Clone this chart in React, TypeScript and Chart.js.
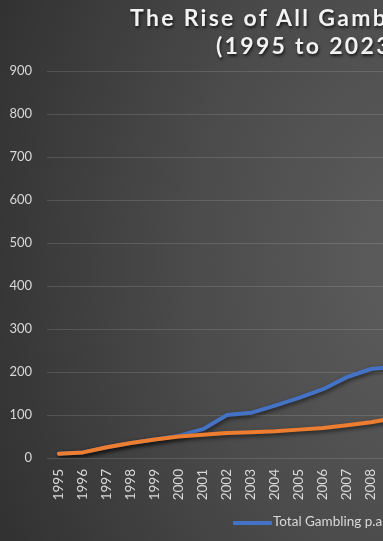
import React, { useEffect, useRef } from 'react';
import { Chart, registerables } from 'chart.js';

Chart.register(...registerables);

// ---- data (visible part of the chart) ----
const years = ['1995', '1996', '1997', '1998', '1999', '2000', '2001', '2002', '2003', '2004', '2005', '2006', '2007', '2008', '2009'];
const totalGambling = [10, 13, 25, 35, 43, 52, 67, 100, 105, 122, 140, 160, 188, 207, 212];
const secondSeries = [10, 13, 25, 35, 43, 50, 54, 58, 60, 62, 66, 70, 76, 83, 93];
const yMin = 0;
const yMax = 900;
const yStep = 100;
const titleLines = ['The Rise of All Gamb', '(1995 to 2023'];
const legendLabel = 'Total Gambling p.a';

const BLUE = '#4472C4';
const ORANGE = '#ED7D31';
const TICK = '#d9d9d9';
const FONT = 'Lato, "Open Sans", sans-serif';

const shadowPlugin = {
  id: 'lineShadow',
  beforeDatasetDraw(chart: any) {
    const c = chart.ctx;
    c.save();
    c.shadowColor = 'rgba(0,0,0,0.6)';
    c.shadowBlur = 4;
    c.shadowOffsetX = 1;
    c.shadowOffsetY = 2;
  },
  afterDatasetDraw(chart: any) {
    chart.ctx.restore();
  },
};

export default function App() {
  const canvasRef = useRef<HTMLCanvasElement | null>(null);

  useEffect(() => {
    if (!canvasRef.current) return;
    const chart = new Chart(canvasRef.current, {
      type: 'line',
      data: {
        labels: years,
        datasets: [
          {
            label: 'Series 2',
            data: secondSeries,
            borderColor: ORANGE,
            backgroundColor: ORANGE,
            borderWidth: 4,
            pointRadius: 0,
            tension: 0,
            borderJoinStyle: 'round',
            borderCapStyle: 'round',
          },
          {
            label: legendLabel,
            data: totalGambling,
            borderColor: BLUE,
            backgroundColor: BLUE,
            borderWidth: 4,
            pointRadius: 0,
            tension: 0,
            borderJoinStyle: 'round',
            borderCapStyle: 'round',
          },
        ],
      },
      options: {
        responsive: false,
        animation: false,
        layout: { padding: { top: 71, left: 0, right: 0, bottom: 0 } },
        plugins: {
          legend: { display: false },
          title: { display: false },
          tooltip: { enabled: false },
        },
        scales: {
          x: {
            type: 'category',
            offset: true,
            grid: { display: false, drawTicks: false },
            border: { display: false },
            ticks: {
              color: TICK,
              font: { family: FONT, size: 13.5 },
              minRotation: 90,
              maxRotation: 90,
              padding: 11,
              autoSkip: false,
            },
            afterFit: (s: any) => {
              s.height = 83;
              s.paddingLeft = 0;
              s.paddingRight = 0;
            },
          },
          y: {
            min: yMin,
            max: yMax,
            grid: { color: 'rgba(255,255,255,0.13)', lineWidth: 1, drawTicks: false },
            border: { display: false },
            ticks: {
              stepSize: yStep,
              color: TICK,
              font: { family: FONT, size: 13 },
              padding: 15,
            },
            afterFit: (s: any) => {
              s.width = 47;
            },
          },
        },
      },
      plugins: [shadowPlugin],
    } as any);
    return () => chart.destroy();
  }, []);

  const titleStyle: React.CSSProperties = {
    position: 'absolute',
    whiteSpace: 'nowrap',
    color: '#f2f2f2',
    fontFamily: FONT,
    fontWeight: 700,
    fontSize: 23,
    lineHeight: '23px',
    letterSpacing: '2.3px',
    textShadow: '1px 2px 3px rgba(0,0,0,0.7)',
  };

  return (
    <div
      style={{
        position: 'fixed',
        left: 0,
        top: 0,
        width: 383,
        height: 541,
        overflow: 'hidden',
        background:
          'radial-gradient(ellipse 460px 620px at 420px 260px, #5e5e5e 0%, #4b4b4b 50%, #323232 100%)',
      }}
    >
      <canvas ref={canvasRef} width={407} height={541} style={{ display: 'block', width: 407, height: 541 }} />
      <div style={{ ...titleStyle, left: 130, top: 6 }}>{titleLines[0]}</div>
      <div style={{ ...titleStyle, left: 216, top: 34 }}>{titleLines[1]}</div>
      <div
        style={{
          position: 'absolute',
          left: 233,
          top: 521,
          width: 39,
          height: 4,
          background: BLUE,
          borderRadius: 1,
        }}
      />
      <div
        style={{
          position: 'absolute',
          left: 273,
          top: 515,
          whiteSpace: 'nowrap',
          color: TICK,
          fontFamily: FONT,
          fontSize: 13.5,
          lineHeight: '13px',
        }}
      >
        {legendLabel}
      </div>
    </div>
  );
}
